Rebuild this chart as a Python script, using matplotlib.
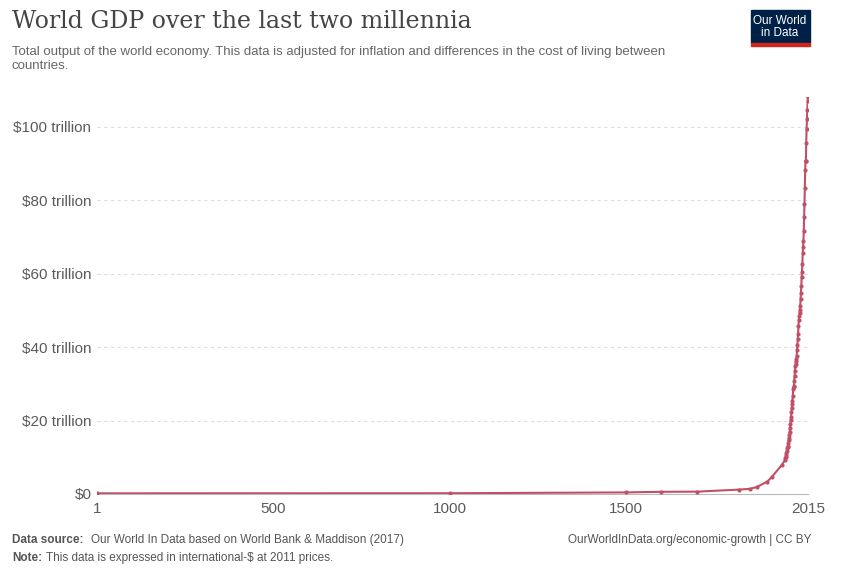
import matplotlib
matplotlib.use("Agg")
import matplotlib.pyplot as plt
from matplotlib.patches import Rectangle

plt.rcParams["font.family"] = ["Liberation Sans", "DejaVu Sans"]

# World GDP, trillion international-$ (2011 prices)
early_years = [1, 1000, 1500, 1600, 1700, 1820, 1850, 1870, 1900, 1913, 1940]
early_gdp = [0.18, 0.21, 0.43, 0.60, 0.64, 1.20, 1.40, 1.90, 3.40, 4.70, 7.80]
annual_gdp = [9.25, 9.8, 10.2, 10.7, 11.1, 11.8, 12.4, 12.9, 13.2, 13.9,
              14.7, 15.3, 16.1, 16.9, 18.1, 19.1, 20.2, 20.9, 22.2, 23.5,
              24.5, 25.4, 26.8, 28.5, 29.2, 29.4, 30.9, 32.1, 33.5, 34.8,
              35.5, 36.3, 36.7, 37.6, 39.3, 40.7, 42.1, 43.7, 45.7, 47.4,
              48.5, 49.2, 50.2, 51.3, 53.0, 54.8, 56.7, 59.0, 60.5, 62.6,
              65.5, 67.2, 69.0, 71.7, 75.3, 78.9, 83.3, 88.1, 90.8, 90.6,
              95.6, 99.5, 102.0, 104.5, 107.0, 108.1]
years = early_years + list(range(1950, 1950 + len(annual_gdp)))
gdp = early_gdp + annual_gdp

x_ticks = [1, 500, 1000, 1500, 2015]
y_ticks = [0, 20, 40, 60, 80, 100]
y_labels = ["$0", "$20 trillion", "$40 trillion", "$60 trillion",
            "$80 trillion", "$100 trillion"]

W, H = 844, 572
fig = plt.figure(figsize=(W / 100, H / 100), dpi=100)
ax = fig.add_axes([97 / W, 1 - 494 / H, (808 - 97) / W, (494 - 97) / H])

ax.plot(years, gdp, color="#c05066", lw=1.5, marker="o", ms=2.0, zorder=3)
ax.set_xlim(1, 2015)
ax.set_ylim(0, 108.1)
ax.set_xticks(x_ticks)
ax.set_xticklabels([str(v) for v in x_ticks])
ax.set_yticks(y_ticks)
ax.set_yticklabels(y_labels)
ax.tick_params(axis="both", length=0, labelsize=11, colors="#5b5b5b")
ax.tick_params(axis="y", pad=4)
ax.tick_params(axis="x", pad=6)
for ytk in y_ticks[1:]:
    ax.axhline(ytk, color="#dddddd", lw=0.8, ls=(0, (3, 3)), zorder=1)
for s in ["top", "right", "left"]:
    ax.spines[s].set_visible(False)
ax.spines["bottom"].set_color("#bbbbbb")

fig.text(12 / W, 1 - 22 / H, "World GDP over the last two millennia",
         fontsize=17, family="DejaVu Serif", color="#444444", va="center")
fig.text(12 / W, 1 - 59 / H,
         "Total output of the world economy. This data is adjusted for inflation and differences in the cost of living between\ncountries.",
         fontsize=9.5, color="#666666", va="center", linespacing=1.3)

# logo
fig.patches.append(Rectangle((751 / W, 1 - 43 / H), 59 / W, 33 / H,
                             transform=fig.transFigure, color="#002147"))
fig.patches.append(Rectangle((751 / W, 1 - 46 / H), 59 / W, 3 / H,
                             transform=fig.transFigure, color="#ce261e"))
fig.text(780 / W, 1 - 27 / H, "Our World\nin Data", fontsize=8.5, color="white",
         ha="center", va="center", linespacing=1.0)

fig.text(12 / W, 1 - 540 / H, "Data source:", fontsize=8.5, color="#555555",
         va="center", weight="bold")
fig.text(91 / W, 1 - 540 / H,
         "Our World In Data based on World Bank & Maddison (2017)",
         fontsize=8.5, color="#555555", va="center")
fig.text(12 / W, 1 - 558 / H, "Note:", fontsize=8.5, color="#555555",
         va="center", weight="bold")
fig.text(46 / W, 1 - 558 / H,
         "This data is expressed in international-$ at 2011 prices.",
         fontsize=8.5, color="#555555", va="center")
fig.text(812 / W, 1 - 540 / H, "OurWorldInData.org/economic-growth | CC BY",
         fontsize=8.5, color="#555555", va="center", ha="right")

fig.savefig("out.png", dpi=100)
